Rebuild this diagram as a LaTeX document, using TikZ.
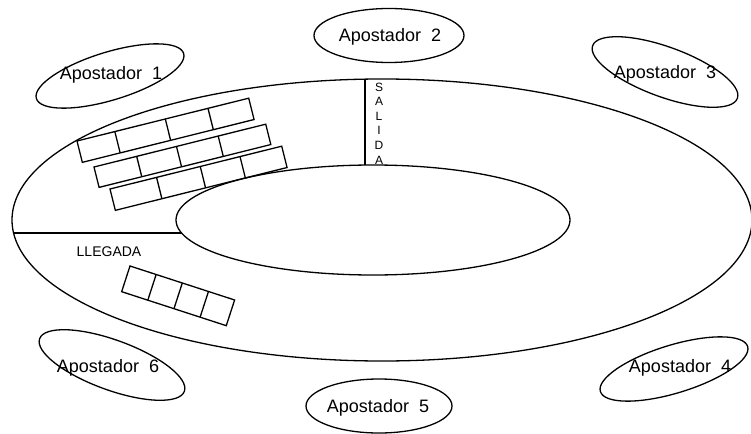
\documentclass[tikz,border=0pt]{standalone}
\usepackage{fontspec}
\setmainfont{Liberation Sans}
\begin{document}
\begin{tikzpicture}[x=1pt,y=1pt,line width=1.3pt,
  lbl/.style={font=\fontsize{18}{20}\selectfont, anchor=base, inner sep=0pt},
  small/.style={font=\fontsize{14}{16}\selectfont, anchor=base, inner sep=0pt},
  cellbox/.style={line width=1.3pt, line join=miter}]
\useasboundingbox (0,0) rectangle (751,-433);

% track
\draw (382,-220) ellipse [x radius=370, y radius=141];
\draw (373,-220) ellipse [x radius=197, y radius=55];

% start / finish lines
\coordinate (salTop) at (365,-79.2);
\coordinate (salBot) at (365,-165.0);
\draw (salTop) -- (salBot);
\coordinate (llegL) at (13.6,-233);
\coordinate (llegR) at (181.6,-233);
\draw (llegL) -- (llegR);

\node[font=\fontsize{12}{14.6}\selectfont, align=center, inner sep=0pt] (salida) at (379,-123.5) {S\\A\\L\\I\\D\\A};
\node[small] (llegada) at (109,-256) {LLEGADA};

% starting boxes (top left)
\begin{scope}[shift={(77,-141)}, rotate=14]
  \draw[cellbox] (0,0) rectangle (177,-22);
  \foreach \d in {39,91,135} \draw (\d,0) -- (\d,-22);
\end{scope}
\begin{scope}[shift={(94,-167)}, rotate=14]
  \draw[cellbox] (0,0) rectangle (177,-21);
  \foreach \d in {44,85,128} \draw (\d,0) -- (\d,-21);
\end{scope}
\begin{scope}[shift={(110,-189)}, rotate=14]
  \draw[cellbox] (0,0) rectangle (177,-22);
  \foreach \d in {48,93,134} \draw (\d,0) -- (\d,-22);
\end{scope}

% boxes near finish
\begin{scope}[shift={(130,-266)}, rotate=-18]
  \draw[cellbox] (0,0) rectangle (110,-27);
  \foreach \d in {27.5,55,82.5} \draw (\d,0) -- (\d,-27);
\end{scope}

% bettors
\draw[rotate around={17:(110,-76)}] (110,-76) ellipse [x radius=77, y radius=24];
\node[lbl] (ap1) at (111,-80) {Apostador\ \ 1};

\draw (389,-35.5) ellipse [x radius=75, y radius=27];
\node[lbl] (ap2) at (390,-42) {Apostador\ \ 2};

\draw[rotate around={-20:(665,-72)}] (665,-72) ellipse [x radius=77, y radius=25];
\node[lbl] (ap3) at (665,-79) {Apostador\ \ 3};

\draw[rotate around={17:(674,-369)}] (674,-369) ellipse [x radius=77, y radius=24];
\node[lbl] (ap4) at (680,-372) {Apostador\ \ 4};

\draw (379,-406) ellipse [x radius=73, y radius=27];
\node[lbl] (ap5) at (378,-412) {Apostador\ \ 5};

\draw[rotate around={-20:(112,-365)}] (112,-365) ellipse [x radius=77, y radius=25];
\node[lbl] (ap6) at (108,-372) {Apostador\ \ 6};
\end{tikzpicture}
\end{document}
